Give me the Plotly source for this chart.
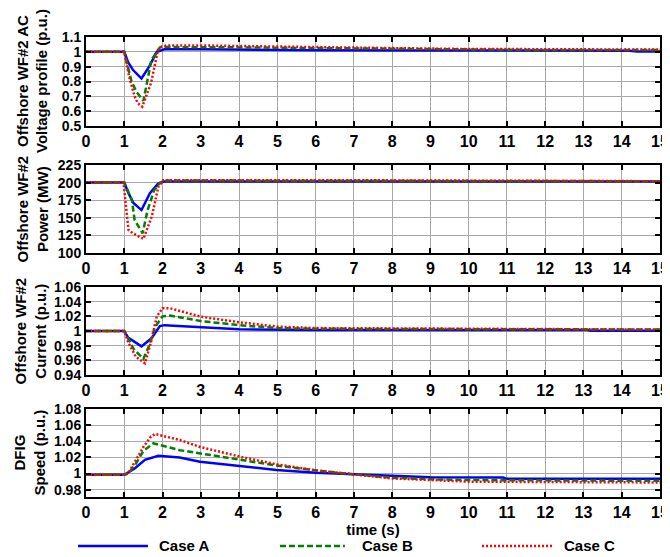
import plotly.graph_objects as go

# ---------------- data ----------------
# Panel 1: Offshore WF#2 AC voltage (p.u.)
volt_t_A = [0, 1.0, 1.1, 1.23, 1.45, 1.65, 1.85, 2.05, 3, 4, 6, 9, 14.2, 14.4, 15]
volt_A   = [1.0, 1.0, 0.93, 0.877, 0.82, 0.90, 1.0, 1.017, 1.017, 1.014, 1.011, 1.009, 1.008, 1.002, 1.002]
volt_t_B = [0, 1.0, 1.19, 1.32, 1.5, 1.71, 1.93, 2.1, 4, 6, 9, 12, 15]
volt_B   = [1.0, 1.0, 0.80, 0.73, 0.67, 0.945, 1.03, 1.032, 1.03, 1.025, 1.015, 1.012, 1.012]
volt_t_C = [0, 1.0, 1.13, 1.27, 1.35, 1.47, 1.7, 1.88, 1.97, 2.1, 3, 4.5, 6, 9.6, 15]
volt_C   = [1.0, 1.0, 0.83, 0.70, 0.655, 0.63, 0.79, 1.012, 1.035, 1.043, 1.043, 1.04, 1.032, 1.02, 1.015]

# Panel 2: Offshore WF#2 power (MW)
pow_t_A = [0, 1.0, 1.11, 1.24, 1.45, 1.67, 1.89, 2.05, 6, 9, 15]
pow_A   = [200, 200, 185, 171, 161, 185, 199, 201.5, 201.5, 201.5, 201.5]
pow_t_B = [0, 1.0, 1.2, 1.27, 1.48, 1.61, 1.78, 1.92, 2.05, 6, 9, 15]
pow_B   = [200, 200, 175, 147, 128, 161, 189, 199, 203, 203, 202.5, 202]
pow_t_C = [0, 0.98, 1.11, 1.23, 1.5, 1.72, 1.89, 2.02, 6, 9, 13, 15]
pow_C   = [200, 200, 133, 128, 120, 152, 194, 203.5, 203.5, 203, 202.5, 202]

# Panel 3: Offshore WF#2 current (p.u.)
cur_t_A = [0, 1.0, 1.1, 1.45, 1.71, 1.93, 2.05, 3, 4, 6, 13.1, 13.2, 15]
cur_A   = [1.0, 1.0, 0.991, 0.979, 0.990, 1.0068, 1.008, 1.005, 1.0023, 1.0015, 1.0014, 1.0003, 1.0003]
cur_t_B = [0, 1.0, 1.1, 1.25, 1.5, 1.65, 1.8, 2.0, 2.2, 3, 4, 5, 6, 12, 15]
cur_B   = [1.0, 1.0, 0.99, 0.975, 0.962, 0.98, 1.005, 1.02, 1.021, 1.0136, 1.008, 1.004, 1.003, 1.003, 1.002]
cur_t_C = [0, 1.0, 1.1, 1.3, 1.54, 1.7, 1.85, 2.0, 2.2, 3, 4, 5, 6, 12, 15]
cur_C   = [1.0, 1.0, 0.985, 0.965, 0.956, 0.985, 1.02, 1.031, 1.031, 1.0195, 1.012, 1.006, 1.004, 1.003, 1.002]

# Panel 4: DFIG speed (p.u.)
spd_t_A = [0, 1.0, 1.28, 1.54, 1.89, 2.45, 2.98, 4.02, 4.98, 6, 7, 8, 9, 10.9, 11, 15]
spd_A   = [0.9985, 0.9985, 1.0066, 1.017, 1.022, 1.020, 1.0146, 1.0094, 1.0045, 1.001, 0.9990, 0.997, 0.9955, 0.995, 0.9935, 0.9935]
spd_t_B = [0, 1.0, 1.1, 1.3, 1.5, 1.76, 2.45, 2.98, 4.02, 4.98, 6, 7, 8, 9, 10, 15]
spd_B   = [0.9985, 0.9985, 1.0, 1.012, 1.028, 1.0375, 1.029, 1.025, 1.017, 1.010, 1.004, 0.999, 0.995, 0.993, 0.992, 0.991]
spd_t_C = [0, 1.0, 1.1, 1.3, 1.5, 1.7, 1.81, 2.45, 2.98, 4.02, 4.98, 6, 7, 8, 9, 10, 15]
spd_C   = [0.9985, 0.9985, 1.0, 1.016, 1.033, 1.046, 1.049, 1.0416, 1.033, 1.021, 1.0115, 1.004, 0.999, 0.994, 0.992, 0.990, 0.989]

case_names = ["Case A", "Case B", "Case C"]
x_ticks = list(range(0, 16))

volt_ticks = [0.5, 0.6, 0.7, 0.8, 0.9, 1.0, 1.1]
volt_ticktext = ["0.5", "0.6", "0.7", "0.8", "0.9", "1", "1.1"]
pow_ticks = [100, 125, 150, 175, 200, 225]
cur_ticks = [0.94, 0.96, 0.98, 1.0, 1.02, 1.04, 1.06]
cur_ticktext = ["0.94", "0.96", "0.98", "1", "1.02", "1.04", "1.06"]
spd_ticks = [0.98, 1.0, 1.02, 1.04, 1.06, 1.08]
spd_ticktext = ["0.98", "1", "1.02", "1.04", "1.06", "1.08"]

y_titles = ["Offshore WF#2 AC<br>Voltage profile (p.u.)",
            "Offshore WF#2<br>Power (MW)",
            "Offshore WF#2<br>Current (p.u.)",
            "DFIG<br>Speed (p.u.)"]

# ---------------- styling ----------------
colors = ["#0000ff", "#008000", "#ff0000"]
dashes = ["solid", "6px,3px", "2px,2px"]
FONT = "Liberation Sans, Arial, sans-serif"

fig = go.Figure()

panels = [
    [(volt_t_A, volt_A), (volt_t_B, volt_B), (volt_t_C, volt_C)],
    [(pow_t_A, pow_A), (pow_t_B, pow_B), (pow_t_C, pow_C)],
    [(cur_t_A, cur_A), (cur_t_B, cur_B), (cur_t_C, cur_C)],
    [(spd_t_A, spd_A), (spd_t_B, spd_B), (spd_t_C, spd_C)],
]

for p, series in enumerate(panels):
    ax = "" if p == 0 else str(p + 1)
    for k, (tt, yy) in enumerate(series):
        fig.add_trace(go.Scatter(
            x=tt, y=yy, mode="lines", name=case_names[k],
            line=dict(color=colors[k], width=2.5, dash=dashes[k]),
            xaxis="x" + ax, yaxis="y" + ax, showlegend=False))

# panel domains (paper coordinates), computed from pixel layout
domains = [(0.8065, 1.0), (0.5304, 0.7217), (0.2652, 0.4565), (0.0, 0.1913)]
yranges = [(0.5, 1.1), (100, 225), (0.94, 1.06), (0.971, 1.08)]
ytv = [volt_ticks, pow_ticks, cur_ticks, spd_ticks]
ytt = [volt_ticktext, [str(v) for v in pow_ticks], cur_ticktext, spd_ticktext]

common_axis = dict(showline=True, linecolor="black", linewidth=2, mirror="ticks",
                   ticks="inside", ticklen=5, tickwidth=1.5, tickcolor="black",
                   showgrid=True, gridcolor="#a8a8a8", gridwidth=1, zeroline=False,
                   automargin=False)

# the page body adds an 8px margin, so the figure is 8px smaller on each axis
layout = dict(
    width=662, height=549,
    margin=dict(l=78, r=10, t=29, b=60),
    paper_bgcolor="white", plot_bgcolor="white",
    showlegend=False,
    font=dict(family=FONT, color="black"),
)

for p in range(4):
    ax = "" if p == 0 else str(p + 1)
    xa = dict(common_axis, domain=[0, 1], range=[0, 15], tickvals=x_ticks,
              ticktext=[str(v) for v in x_ticks],
              tickfont=dict(family=FONT, size=16, weight="bold", color="black"),
              anchor="y" + ax)
    if p == 3:
        xa["title"] = dict(text="time (s)", standoff=4,
                           font=dict(family=FONT, size=15, weight="bold", color="black"))
    ya = dict(common_axis, domain=list(domains[p]), range=list(yranges[p]),
              tickvals=ytv[p], ticktext=ytt[p],
              tickfont=dict(family=FONT, size=14, weight="bold", color="black"),
              anchor="x" + ax)
    layout["xaxis" + ax] = xa
    layout["yaxis" + ax] = ya

fig.update_layout(**layout)

# y-axis titles (two lines, rotated)
title_shift = [-33, -33, -35, -36]
for p in range(4):
    fig.add_annotation(text=y_titles[p], xref="paper", yref="paper",
                       x=0, y=(domains[p][0] + domains[p][1]) / 2,
                       xanchor="right", yanchor="middle", xshift=title_shift[p],
                       textangle=-90, showarrow=False,
                       font=dict(family=FONT, size=15, weight="bold", color="black"))

# legend drawn below the plots
leg_y = -0.1065
leg_lines = [(-0.0139, 0.108), (0.338, 0.451), (0.690, 0.8136)]
leg_text_x = [0.1237, 0.4774, 0.8293]
for k in range(3):
    fig.add_shape(type="line", xref="paper", yref="paper",
                  x0=leg_lines[k][0], x1=leg_lines[k][1], y0=leg_y, y1=leg_y,
                  line=dict(color=colors[k], width=2.5, dash=dashes[k]))
    fig.add_annotation(text=case_names[k], xref="paper", yref="paper",
                       x=leg_text_x[k], y=leg_y, xanchor="left", yanchor="middle",
                       showarrow=False,
                       font=dict(family=FONT, size=15, weight="bold", color="black"))

fig.write_html("out.html")
